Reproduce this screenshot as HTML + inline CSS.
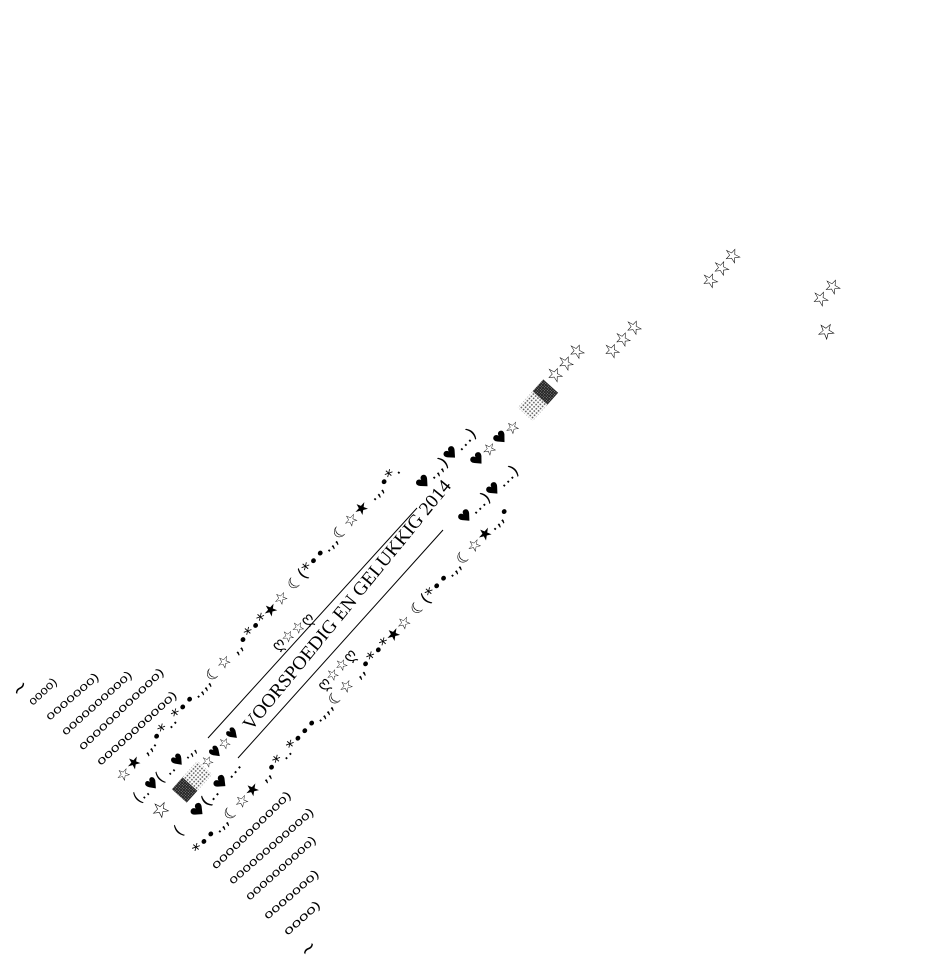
<!DOCTYPE html>
<html><head><meta charset="utf-8"><style>
html,body{margin:0;padding:0;background:#fff;}
svg{display:block}
text{font-family:"DejaVu Sans","Liberation Sans",sans-serif;fill:#000;}
.o{font-size:12px;font-family:"Liberation Sans","DejaVu Sans",sans-serif;}
.s{font-size:16px;}
.t{font-size:22px;}
.m{font-family:"Liberation Serif",serif;font-size:19px;}
</style></head><body>
<svg width="930" height="966" viewBox="0 0 930 966" xmlns="http://www.w3.org/2000/svg">
<defs>
<pattern id="dt" width="3" height="3" patternUnits="userSpaceOnUse"><rect width="3" height="3" fill="#fff"/><circle cx="1.5" cy="1.5" r="0.9" fill="#555"/></pattern>
<pattern id="dk" width="2" height="2" patternUnits="userSpaceOnUse"><rect width="2" height="2" fill="#222"/><rect width="1" height="1" fill="#888"/></pattern>
</defs>
<g dominant-baseline="central">
<!-- exhaust upper -->
<text transform="translate(14,694) rotate(-49)" font-size="20">~</text>
<text class="o" transform="translate(30,703) rotate(-42.6)" textLength="34" lengthAdjust="spacingAndGlyphs">oooo)</text>
<text class="o" transform="translate(47,718) rotate(-40.7)" textLength="66" lengthAdjust="spacingAndGlyphs">ooooooo)</text>
<text class="o" transform="translate(63,733) rotate(-41.8)" textLength="90" lengthAdjust="spacingAndGlyphs">oooooooooo)</text>
<text class="o" transform="translate(80,748) rotate(-43.6)" textLength="113" lengthAdjust="spacingAndGlyphs">oooooooooooo)</text>
<text class="o" transform="translate(98,763) rotate(-42.3)" textLength="104" lengthAdjust="spacingAndGlyphs">ooooooooooo)</text>
<!-- exhaust lower -->
<text class="o" transform="translate(213,867) rotate(-44.2)" textLength="106" lengthAdjust="spacingAndGlyphs">ooooooooooo)</text>
<text class="o" transform="translate(230,882) rotate(-41.3)" textLength="109" lengthAdjust="spacingAndGlyphs">oooooooooooo)</text>
<text class="o" transform="translate(247,898) rotate(-41.8)" textLength="90" lengthAdjust="spacingAndGlyphs">oooooooooo)</text>
<text class="o" transform="translate(265,917) rotate(-40.9)" textLength="69" lengthAdjust="spacingAndGlyphs">ooooooo)</text>
<text class="o" transform="translate(285,933) rotate(-42)" textLength="45" lengthAdjust="spacingAndGlyphs">oooo)</text>
<text transform="translate(302,954) rotate(-45)" font-size="20">~</text>

<!-- body rows -->
<text class="s" transform="translate(118,780) rotate(-48.2)" textLength="419" lengthAdjust="spacingAndGlyphs">☆★ ,,.•*‥*••.,,,☾☆ ,,•*•*★☆ ☾(*••.,,☾☆★ .,,•*.</text>
<text class="s" transform="translate(135,800) rotate(-42.5)" textLength="80" lengthAdjust="spacingAndGlyphs">(‥♥( ‥♥.,,</text>
<text class="s" transform="translate(418,488) rotate(-46)" textLength="80" lengthAdjust="spacingAndGlyphs">♥.,,)♥.‥)</text>
<text class="s" transform="translate(193,817) rotate(-50.7)" textLength="71" lengthAdjust="spacingAndGlyphs">♥(‥♥.‥</text>
<text class="s" transform="translate(460,522) rotate(-44)" textLength="78" lengthAdjust="spacingAndGlyphs">♥.‥)♥.‥)</text>
<text class="s" transform="translate(176,833) rotate(-45)">(</text>
<text class="t" transform="translate(154,817) rotate(-45)">☆</text>
<text class="s" transform="translate(195,852) rotate(-47.7)" textLength="465" lengthAdjust="spacingAndGlyphs">*••.,,☾☆★ ,,•*‥*•••.,,,☾☆ ,,•*•*★☆ ☾(*••.,,☾☆★.,,•</text>

<!-- main message -->
<text class="s" transform="translate(203,766) rotate(-47)" textLength="50" lengthAdjust="spacingAndGlyphs">☆♥☆♥</text>
<text class="m" transform="translate(247,728) rotate(-50.7)" textLength="317" lengthAdjust="spacingAndGlyphs">VOORSPOEDIG EN GELUKKIG  2014</text>
<line x1="208" y1="738" x2="417" y2="508" stroke="#000" stroke-width="1"/>
<line x1="238" y1="758" x2="443" y2="530" stroke="#000" stroke-width="1"/>
<text class="s" transform="translate(274,648) rotate(-41)" textLength="50" lengthAdjust="spacingAndGlyphs">ღ☆☆ღ</text>
<text class="s" transform="translate(320,688) rotate(-47.6)" textLength="50" lengthAdjust="spacingAndGlyphs">ღ☆☆ღ</text>

<!-- tip -->
<text class="s" transform="translate(472,465) rotate(-43)" textLength="63" lengthAdjust="spacingAndGlyphs">♥☆♥☆</text>
<text class="t" transform="translate(550,381) rotate(-47)" textLength="48" lengthAdjust="spacingAndGlyphs">☆☆☆</text>
<text class="t" transform="translate(607,357) rotate(-47)" textLength="48" lengthAdjust="spacingAndGlyphs">☆☆☆</text>
<text class="t" transform="translate(705,287) rotate(-48)" textLength="50" lengthAdjust="spacingAndGlyphs">☆☆☆</text>
<text class="t" transform="translate(815,305) rotate(-45)" textLength="34" lengthAdjust="spacingAndGlyphs">☆☆</text>
<text class="t" transform="translate(819,338) rotate(-40)">☆</text>
</g>

<!-- nozzles -->
<g transform="translate(540,398) rotate(-48)">
<rect x="-22" y="-10" width="22" height="20" fill="url(#dt)"/>
<rect x="0" y="-10" width="16" height="20" fill="url(#dk)"/>
</g>
<g transform="translate(190,784) rotate(-48)">
<rect x="-16" y="-10" width="16" height="20" fill="url(#dk)"/>
<rect x="0" y="-10" width="22" height="20" fill="url(#dt)"/>
</g>
</svg>
</body></html>
